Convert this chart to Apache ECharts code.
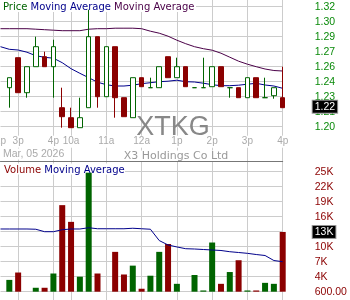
<!DOCTYPE html>
<html><head><meta charset="utf-8">
<script src="https://cdn.jsdelivr.net/npm/echarts@6/dist/echarts.min.js"></script>
<style>html,body{margin:0;padding:0;background:#fff}#c{width:350px;height:300px}</style>
</head><body><div id="c"></div><script>
// ---- data ----
const times = ["03-04 14:30","03-04 14:45","03-04 15:00","03-04 15:15","03-04 15:30","03-04 15:45","03-04 16:00",
  "03-05 09:45","03-05 10:00","03-05 10:15","03-05 10:30","03-05 10:45","03-05 11:00","03-05 11:15","03-05 11:30","03-05 11:45",
  "03-05 12:00","03-05 12:15","03-05 12:30","03-05 12:45","03-05 13:00","03-05 13:15","03-05 13:30","03-05 13:45",
  "03-05 14:00","03-05 14:15","03-05 14:30","03-05 14:45","03-05 15:00","03-05 15:15","03-05 15:30","03-05 15:45","03-05 16:00"];
const timeLabels = ["2p","","3p","","","","4p","","10a","","","","11a","","","","12a","","","","1p","","","","2p","","","","3p","","","","4p"];
const openPrice  = [null,1.239,1.269,1.234,1.260,1.270,1.260,1.219,1.209,1.199,1.219,1.290,1.230,1.280,1.229,1.209,1.249,1.239,1.239,1.270,1.249,1.260,1.239,1.239,1.240,1.260,1.239,1.239,1.229,1.249,1.229,1.231,1.229];
const highPrice  = [null,1.249,1.269,1.260,1.290,1.275,1.287,1.239,1.219,1.229,1.317,1.290,1.280,1.280,1.229,1.249,1.249,1.249,1.260,1.270,1.269,1.260,1.239,1.269,1.260,1.260,1.239,1.239,1.249,1.249,1.249,1.239,1.260];
const lowPrice   = [null,1.219,1.234,1.229,1.260,1.260,1.229,1.199,1.199,1.199,1.219,1.219,1.230,1.209,1.210,1.209,1.240,1.239,1.239,1.249,1.249,1.240,1.239,1.239,1.240,1.240,1.229,1.229,1.229,1.229,1.229,1.228,1.219];
const closePrice = [null,1.249,1.234,1.260,1.280,1.260,1.280,1.210,1.199,1.209,1.290,1.230,1.280,1.229,1.210,1.249,1.240,1.239,1.260,1.249,1.260,1.240,1.239,1.239,1.260,1.240,1.239,1.229,1.249,1.229,1.229,1.239,1.219];
const maShort = [1.280,1.2774,1.2767,1.2745,1.271,1.2694,1.2685,1.264,1.258,1.2534,1.249,1.2445,1.242,1.2407,1.2407,1.2415,1.243,1.244,1.245,1.2455,1.2465,1.245,1.2447,1.2435,1.242,1.241,1.241,1.2415,1.2425,1.2434,1.2417,1.2407,1.2384];
const maLong  = [1.298,1.298,1.298,1.298,1.2975,1.297,1.2965,1.296,1.296,1.296,1.2975,1.298,1.298,1.2985,1.2985,1.2985,1.298,1.2955,1.2935,1.2905,1.2865,1.283,1.280,1.278,1.2765,1.2735,1.2695,1.2655,1.2625,1.260,1.2577,1.2562,1.2557];
const volume  = [null,3000,4500,600,1400,1400,4300,18200,14800,3650,24800,4300,600,8700,4100,5900,1200,3850,8700,10300,2200,600,4000,850,10600,2200,4600,7000,850,850,2400,2200,12750];
const volumeMA = [13350,13350,13350,13350,13300,12800,12800,13200,13350,13350,13600,13400,13400,13400,13400,13500,13400,13300,11000,10100,9700,9340,9280,9180,9080,8980,8730,8570,8400,8160,7960,6940,6700];
const priceTickLabels  = ["1.20","1.21","1.23","1.24","1.26","1.27","1.29","1.30","1.32"];
const volumeTickLabels = ["600.00","4K","7K","10K","13K","16K","19K","22K","25K"];
const ticker = "XTKG", companyName = "X3 Holdings Co Ltd", dateText = "Mar, 05 2026";

// ---- styles / layout ----
const GREEN = '#006400', RED = '#8b0000', NAVY = '#00008b', PURPLE = '#4a0048', GRID = '#cccccc';
const AX_FONT = 'Liberation Sans';
const priceMin = 1.20, priceStep = 0.015, volMin = 600, volStep = 3050;
const L = 0.5, R = 67.3;

const candleData = times.map((t, i) => openPrice[i] == null ? ['-','-','-','-'] : [openPrice[i], closePrice[i], lowPrice[i], highPrice[i]]);
const volData = times.map((t, i) => volume[i] == null ? '-' : {
  value: volume[i], itemStyle: { color: closePrice[i] >= openPrice[i] ? GREEN : RED } });
const lastClose = closePrice[closePrice.length - 1];
const lastVol = volume[volume.length - 1];

const boxLabel = (fmt) => ({ show: true, position: 'end', distance: 30, formatter: fmt,
  color: '#fff', backgroundColor: '#000', borderColor: '#999', borderWidth: 1, padding: [1, 2, 0, 2],
  fontFamily: AX_FONT, fontSize: 10.5, opacity: 1 });

const chart = echarts.init(document.getElementById('c'), null, { renderer: 'canvas' });
chart.setOption({
  animation: false,
  backgroundColor: '#fff',
  grid: [
    { left: L, right: R, top: -1, height: 127.7, outerBoundsMode: 'none', containLabel: false },
    { left: L, right: R, top: 161.7, height: 130, outerBoundsMode: 'none', containLabel: false },
    { left: L, right: R, top: 0, height: 300, outerBoundsMode: 'none', containLabel: false }
  ],
  xAxis: [
    { type: 'category', gridIndex: 0, data: times, boundaryGap: false,
      axisLine: { show: false }, axisTick: { show: false }, splitLine: { show: false },
      axisLabel: { show: true, interval: (i) => timeLabels[i] !== '', formatter: (v, i) => timeLabels[i],
        color: '#aaaaaa', fontFamily: AX_FONT, fontSize: 10, margin: 9, backgroundColor: '#fff', padding: [1, 1] } },
    { type: 'category', gridIndex: 1, data: times, boundaryGap: false, position: 'top',
      axisLine: { show: true, onZero: false, lineStyle: { color: '#777', width: 1 } }, axisTick: { show: false },
      axisLabel: { show: false }, splitLine: { show: false }, z: 5 },
    { type: 'category', gridIndex: 2, data: times, boundaryGap: false,
      axisLine: { show: false }, axisTick: { show: false }, axisLabel: { show: false },
      splitLine: { show: true, interval: (i) => i > 0 && timeLabels[i] !== '', lineStyle: { color: GRID, width: 1 } } }
  ],
  yAxis: [
    { type: 'value', gridIndex: 0, position: 'right', min: priceMin, max: 1.3277, interval: priceStep, scale: true,
      axisLine: { show: false }, axisTick: { show: false },
      splitLine: { show: true, lineStyle: { color: GRID, width: 1 } },
      axisLabel: { color: '#0a8a0a', margin: 32, align: 'left', fontFamily: AX_FONT, fontSize: 10.5,
        formatter: (v) => { const k = Math.round((v - priceMin) / priceStep); return priceTickLabels[k] || ''; } } },
    { type: 'value', gridIndex: 1, position: 'right', min: volMin, max: 27033, interval: volStep, scale: true,
      axisLine: { show: false }, axisTick: { show: false },
      splitLine: { show: true, lineStyle: { color: GRID, width: 1 } },
      axisLabel: { color: RED, margin: 32, align: 'left', fontFamily: AX_FONT, fontSize: 10.5,
        formatter: (v) => { const k = Math.round((v - volMin) / volStep); return Math.abs(v - volMin - k * volStep) < 1 ? (volumeTickLabels[k] || '') : ''; } } },
    { type: 'value', gridIndex: 2, show: false, min: 0, max: 1 }
  ],
  series: [
    { type: 'line', xAxisIndex: 0, yAxisIndex: 0, data: maLong, showSymbol: false, symbol: 'none',
      lineStyle: { color: PURPLE, width: 1 }, z: 3, silent: true },
    { type: 'line', xAxisIndex: 0, yAxisIndex: 0, data: maShort, showSymbol: false, symbol: 'none',
      lineStyle: { color: NAVY, width: 1 }, z: 3, silent: true },
    { type: 'candlestick', xAxisIndex: 0, yAxisIndex: 0, data: candleData, barWidth: 5, clip: false, z: 4,
      itemStyle: { color: '#ffffff', color0: RED, borderColor: GREEN, borderColor0: RED, borderColorDoji: GREEN, borderWidth: 1 },
      markLine: { silent: true, symbol: 'none', animation: false, z: 10,
        lineStyle: { color: 'rgba(0,0,0,0)', width: 0, type: 'solid' },
        label: boxLabel(() => lastClose.toFixed(2)),
        data: [{ yAxis: lastClose }] } },
    { type: 'bar', xAxisIndex: 1, yAxisIndex: 1, data: volData, barWidth: 6, z: 3,
      markLine: { silent: true, symbol: 'none', animation: false, z: 10,
        lineStyle: { color: 'rgba(0,0,0,0)', width: 0, type: 'solid' },
        label: boxLabel(() => Math.round(lastVol / 1000) + 'K'),
        data: [{ yAxis: lastVol }] } },
    { type: 'line', xAxisIndex: 1, yAxisIndex: 1, data: volumeMA, showSymbol: false, symbol: 'none',
      lineStyle: { color: NAVY, width: 1 }, z: 4, silent: true }
  ],
  graphic: [
    { type: 'rect', shape: { x: 0, y: 0, width: 196, height: 12 }, style: { fill: '#fff' }, z: 1, silent: true },
    { type: 'text', x: 3, y: 7, z: 10, silent: true,
      style: { text: '{g|Price} {b|Moving Average} {p|Moving Average}', verticalAlign: 'middle',
        font: '10px "DejaVu Sans"',
        rich: { g: { fill: GREEN, font: '10px "DejaVu Sans"' }, b: { fill: NAVY, font: '10px "DejaVu Sans"' }, p: { fill: PURPLE, font: '10px "DejaVu Sans"' } } } },
    { type: 'rect', shape: { x: 0, y: 163.5, width: 125, height: 11 }, style: { fill: '#fff' }, z: 1, silent: true },
    { type: 'text', x: 4, y: 170.7, z: 10, silent: true,
      style: { text: '{r|Volume} {b|Moving Average}', verticalAlign: 'middle', font: '10px "DejaVu Sans"',
        rich: { r: { fill: RED, font: '10px "DejaVu Sans"' }, b: { fill: NAVY, font: '10px "DejaVu Sans"' } } } },
    { type: 'text', x: 173, y: 128, z: 1, silent: true,
      style: { text: ticker, fill: '#888', font: '27px "Liberation Sans"', align: 'center', verticalAlign: 'middle' } },
    { type: 'rect', shape: { x: 2, y: 148.5, width: 64, height: 11 }, style: { fill: '#fff' }, z: 1, silent: true },
    { type: 'text', x: 3, y: 154.5, z: 10, silent: true,
      style: { text: dateText, fill: '#aaa', font: '10.5px "Liberation Sans"', verticalAlign: 'middle' } },
    { type: 'rect', shape: { x: 122, y: 150.5, width: 109, height: 10.5 }, style: { fill: '#fff' }, z: 1, silent: true },
    { type: 'text', x: 176, y: 156.5, z: 10, silent: true,
      style: { text: companyName, fill: '#999', font: '11px "DejaVu Sans"', align: 'center', verticalAlign: 'middle' } }
  ]
});
</script></body></html>
